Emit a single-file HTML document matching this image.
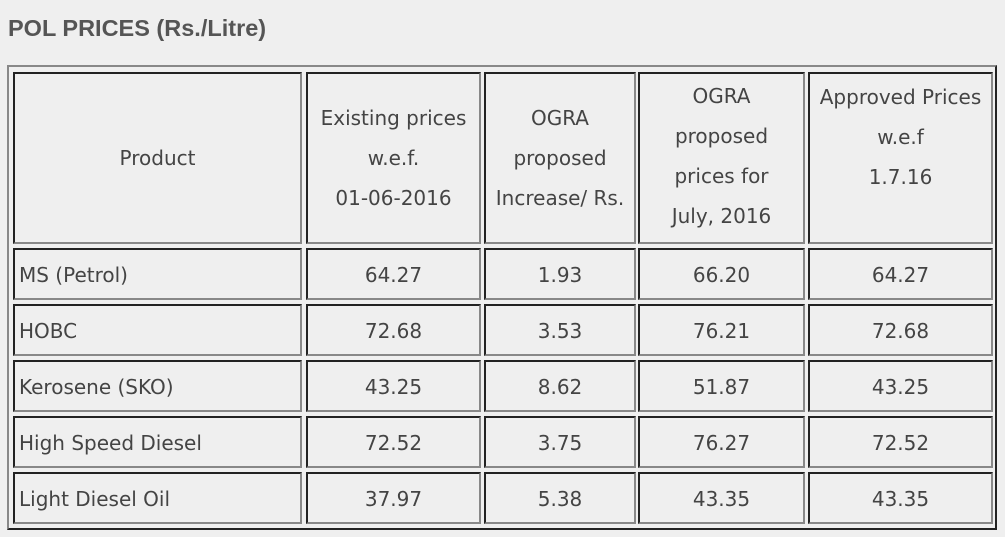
<!DOCTYPE html>
<html><head><style>
body{margin:0;width:1005px;height:537px;background:#efefef;position:relative;overflow:hidden;font-family:"DejaVu Sans","Liberation Sans",sans-serif;color:#444}
.t{position:absolute;left:8px;top:15px;font:bold 23.5px "Liberation Sans",sans-serif;color:#555}
.o{position:absolute;left:7px;top:65px;width:986px;height:461px;border-top:2px solid #888;border-left:2px solid #888;border-right:2px solid #222;border-bottom:2px solid #222}
.c{position:absolute;box-sizing:border-box;border-top:2px solid #222;border-left:2px solid #222;border-right:2px solid #888;border-bottom:2px solid #888;display:flex;align-items:center;justify-content:center;text-align:center;font-size:20px;line-height:40px;padding-top:1px}
.h{padding-top:0;padding-bottom:1px}
.l{justify-content:flex-start;padding-left:4px}
</style></head><body>
<div class="t">POL PRICES (Rs./Litre)</div>
<div class="o"></div>
<div class="c h" style="left:13px;top:72px;width:289px;height:172px">Product</div>
<div class="c h" style="left:306px;top:72px;width:175px;height:172px">Existing prices<br>w.e.f.<br>01-06-2016</div>
<div class="c h" style="left:484px;top:72px;width:152px;height:172px">OGRA<br>proposed<br>Increase/ Rs.</div>
<div class="c h" style="left:638px;top:72px;width:167px;height:172px;padding-bottom:4px">OGRA<br>proposed<br>prices for<br>July, 2016</div>
<div class="c h" style="left:808px;top:72px;width:185px;height:172px;padding-bottom:42px">Approved Prices<br>w.e.f<br>1.7.16</div>

<div class="c l" style="left:13px;top:248px;width:289px;height:52px">MS (Petrol)</div>
<div class="c" style="left:306px;top:248px;width:175px;height:52px">64.27</div>
<div class="c" style="left:484px;top:248px;width:152px;height:52px">1.93</div>
<div class="c" style="left:638px;top:248px;width:167px;height:52px">66.20</div>
<div class="c" style="left:808px;top:248px;width:185px;height:52px">64.27</div>

<div class="c l" style="left:13px;top:304px;width:289px;height:52px">HOBC</div>
<div class="c" style="left:306px;top:304px;width:175px;height:52px">72.68</div>
<div class="c" style="left:484px;top:304px;width:152px;height:52px">3.53</div>
<div class="c" style="left:638px;top:304px;width:167px;height:52px">76.21</div>
<div class="c" style="left:808px;top:304px;width:185px;height:52px">72.68</div>

<div class="c l" style="left:13px;top:360px;width:289px;height:52px">Kerosene (SKO)</div>
<div class="c" style="left:306px;top:360px;width:175px;height:52px">43.25</div>
<div class="c" style="left:484px;top:360px;width:152px;height:52px">8.62</div>
<div class="c" style="left:638px;top:360px;width:167px;height:52px">51.87</div>
<div class="c" style="left:808px;top:360px;width:185px;height:52px">43.25</div>

<div class="c l" style="left:13px;top:416px;width:289px;height:52px">High Speed Diesel</div>
<div class="c" style="left:306px;top:416px;width:175px;height:52px">72.52</div>
<div class="c" style="left:484px;top:416px;width:152px;height:52px">3.75</div>
<div class="c" style="left:638px;top:416px;width:167px;height:52px">76.27</div>
<div class="c" style="left:808px;top:416px;width:185px;height:52px">72.52</div>

<div class="c l" style="left:13px;top:472px;width:289px;height:52px">Light Diesel Oil</div>
<div class="c" style="left:306px;top:472px;width:175px;height:52px">37.97</div>
<div class="c" style="left:484px;top:472px;width:152px;height:52px">5.38</div>
<div class="c" style="left:638px;top:472px;width:167px;height:52px">43.35</div>
<div class="c" style="left:808px;top:472px;width:185px;height:52px">43.35</div>
</body></html>
